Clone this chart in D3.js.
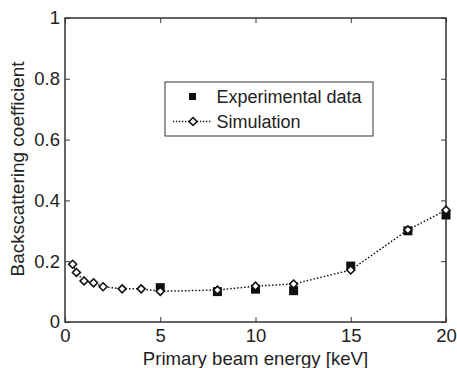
<!DOCTYPE html>
<html>
<head>
<meta charset="utf-8">
<style>
    body { margin: 0; background: #fff; }
    svg { display: block; font-family: Arial, 'Liberation Sans', sans-serif; }
</style>
</head>
<body>
<svg width="457" height="368"></svg>
<script src="https://d3js.org/d3.v7.min.js"></script>
<script>
    // simulation (dotted line + open diamonds)
    let simEnergy = [0.4, 0.6, 1, 1.5, 2, 3, 4, 5, 8, 10, 12, 15, 18, 20]
    let simCoef = [0.19, 0.163, 0.135, 0.129, 0.116, 0.109, 0.109, 0.101, 0.105, 0.118, 0.125, 0.171, 0.303, 0.368]

    // experimental (filled squares)
    let expEnergy = [5, 8, 10, 12, 15, 18, 20]
    let expCoef = [0.113, 0.1, 0.108, 0.103, 0.184, 0.3, 0.352]

    let xTicks = [0, 5, 10, 15, 20]
    let yTicks = [0, 0.2, 0.4, 0.6, 0.8, 1]

    let svg = d3.select("svg")
    let plotL = 65, plotR = 446, plotT = 18, plotB = 322
    let ink = "#222"

    let x = d3.scaleLinear().domain([0, 20]).range([plotL, plotR])
    let y = d3.scaleLinear().domain([0, 1]).range([plotB, plotT])

    // box
    svg.append("rect")
        .attr("x", plotL).attr("y", plotT)
        .attr("width", plotR - plotL).attr("height", plotB - plotT)
        .style("fill", "none").style("stroke", "#333").style("stroke-width", 1.5)

    // axes, ticks pointing inward, labels only bottom/left
    let fmtY = d => d === 0 || d === 1 ? d3.format("d")(d) : d3.format(".1f")(d)
    let axes = [
        [d3.axisBottom(x).tickValues(xTicks).tickSize(-5).tickPadding(7).tickFormat(d3.format("d")), `translate(0,${plotB})`],
        [d3.axisTop(x).tickValues(xTicks).tickSize(-5).tickFormat(""), `translate(0,${plotT})`],
        [d3.axisLeft(y).tickValues(yTicks).tickSize(-5).tickPadding(5).tickFormat(fmtY), `translate(${plotL},0)`],
        [d3.axisRight(y).tickValues(yTicks).tickSize(-5).tickFormat(""), `translate(${plotR},0)`]
    ]
    axes.forEach(a => {
        let g = svg.append("g").attr("transform", a[1]).call(a[0])
        g.select(".domain").remove()
        g.selectAll(".tick line").style("stroke", "#333").style("stroke-width", 1)
        g.selectAll("text").style("font-size", "18.5px").style("fill", ink).style("font-family", "Arial, 'Liberation Sans', sans-serif")
    })

    // axis titles
    svg.append("text")
        .attr("x", (plotL + plotR) / 2).attr("y", 365)
        .attr("text-anchor", "middle")
        .style("font-size", "18.6px").style("fill", ink)
        .text("Primary beam energy [keV]")

    svg.append("text")
        .attr("transform", `translate(24,${(plotT + plotB) / 2 - 1}) rotate(-90)`)
        .attr("text-anchor", "middle")
        .style("font-size", "19px").style("fill", ink)
        .text("Backscattering coefficient")

    let simData = simEnergy.map((e, i) => [e, simCoef[i]])
    let expData = expEnergy.map((e, i) => [e, expCoef[i]])

    let line = d3.line().x(d => x(d[0])).y(d => y(d[1]))

    // squares under the simulation curve
    svg.append("g")
        .selectAll("rect")
        .data(expData)
        .join("rect")
        .attr("x", d => x(d[0]) - 4.5)
        .attr("y", d => y(d[1]) - 4.5)
        .attr("width", 9).attr("height", 9)
        .style("fill", "#111")

    svg.append("path")
        .datum(simData)
        .attr("d", line)
        .style("fill", "none")
        .style("stroke", "#111")
        .style("stroke-width", 1.5)
        .style("stroke-dasharray", "1.5,2")

    let diamond = d3.symbol().type(d3.symbolDiamond2).size(40)
    svg.append("g")
        .selectAll("path")
        .data(simData)
        .join("path")
        .attr("transform", d => `translate(${x(d[0])},${y(d[1])})`)
        .attr("d", diamond)
        .style("fill", "#fff")
        .style("stroke", "#111")
        .style("stroke-width", 1.6)

    // legend
    let lg = svg.append("g").attr("transform", "translate(165,82)")
    lg.append("rect")
        .attr("width", 208).attr("height", 54)
        .style("fill", "#fff").style("stroke", "#333").style("stroke-width", 1)
    lg.append("rect")
        .attr("x", 24).attr("y", 11).attr("width", 7).attr("height", 7)
        .style("fill", "#111")
    lg.append("line")
        .attr("x1", 8).attr("x2", 47).attr("y1", 39.5).attr("y2", 39.5)
        .style("stroke", "#111").style("stroke-width", 1.3).style("stroke-dasharray", "1.3,1.7")
    lg.append("path")
        .attr("transform", "translate(28,39.5)")
        .attr("d", diamond)
        .style("fill", "#fff").style("stroke", "#111").style("stroke-width", 1.6)
    lg.append("text").attr("x", 51.5).attr("y", 14.5).attr("dy", "0.35em")
        .style("font-size", "18px").style("fill", ink).text("Experimental data")
    lg.append("text").attr("x", 51.5).attr("y", 39.7).attr("dy", "0.35em")
        .style("font-size", "18px").style("fill", ink).text("Simulation")
</script>
</body>
</html>
